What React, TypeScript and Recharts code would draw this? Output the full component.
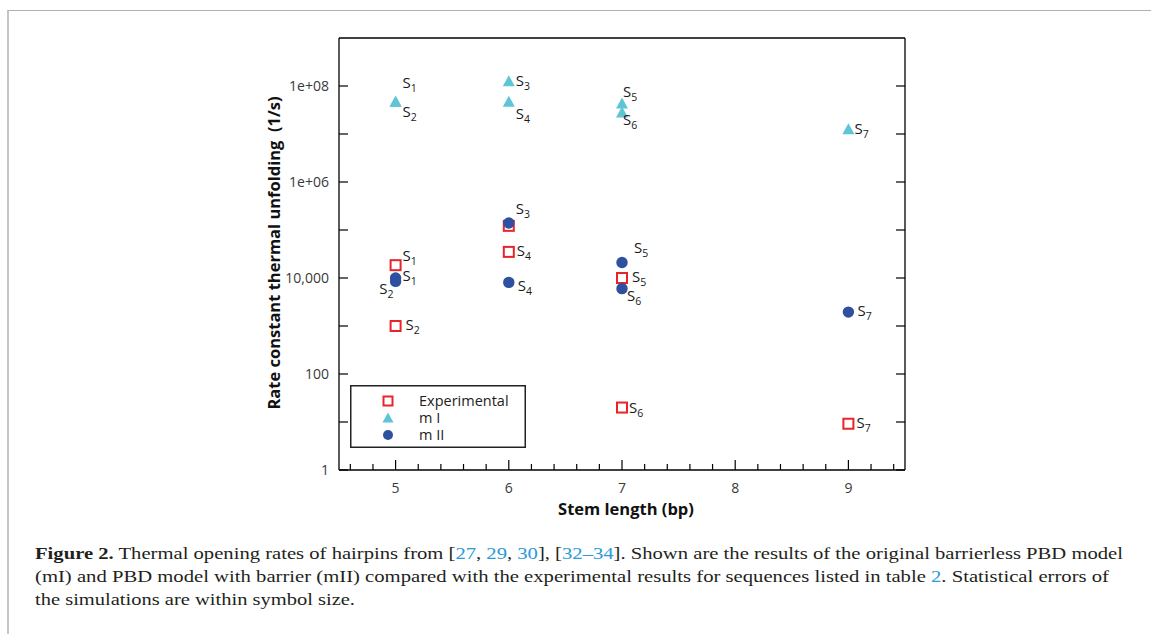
import { ScatterChart, Scatter, XAxis, YAxis, Legend } from 'recharts';

// stem lengths and names of the seven hairpin sequences
const stemLength = [5, 5, 6, 6, 7, 7, 9];
const sequenceNames = ['S1', 'S2', 'S3', 'S4', 'S5', 'S6', 'S7'];

// rate constants (1/s)
const experimentalRates = [18500, 1000, 122000, 35000, 10000, 20, 9.2];
const mIRates = [4.7e7, 4.7e7, 1.25e8, 4.7e7, 4.3e7, 2.8e7, 1.25e7];
const mIIRates = [10000, 8500, 140000, 8100, 21000, 6000, 1950];

const xTicks = [4.6, 4.8, 5, 5.2, 5.4, 5.6, 5.8, 6, 6.2, 6.4, 6.6, 6.8, 7, 7.2, 7.4, 7.6, 7.8, 8, 8.2, 8.4, 8.6, 8.8, 9, 9.2, 9.4];
const xTickLabels = [5, 6, 7, 8, 9];
const yTicks = [1, 10, 100, 1000, 10000, 1e5, 1e6, 1e7, 1e8];
const yTickLabels: Record<number, string> = { 1: '1', 100: '100', 10000: '10,000', 1000000: '1e+06', 100000000: '1e+08' };

const RED = '#e8242a';
const CYAN = '#5ec5d6';
const NAVY = '#2f4f9f';
const TICK_FONT = '"Open Sans", sans-serif';

// where each S-label sits next to its marker: [dx, dy, anchor]
const labelPlacement: Record<string, Record<string, [number, number, string?]>> = {
  exp: { S1: [7, -4], S2: [10, 4], S4: [8, 4], S5: [10, 4], S6: [7, 5], S7: [8, 4] },
  mI: { S1: [7, -14], S2: [7, 15], S3: [7, 5], S4: [7, 17], S5: [1, -7], S6: [1, 12], S7: [6, 5] },
  mII: { S1: [7, 3], S2: [-2, 13, 'end'], S3: [7, -9], S4: [9, 9], S5: [12, -10], S6: [5, 12], S7: [9, 4] },
};

const toPoints = (rates: number[]) =>
  rates.map((r, i) => ({ stem: stemLength[i], rate: r, name: sequenceNames[i] }));

const expData = toPoints(experimentalRates);
const mIData = toPoints(mIRates);
const mIIData = toPoints(mIIRates);

function SeqLabel({ cx, cy, name, series }: any) {
  const pl = labelPlacement[series][name];
  if (!pl) return null;
  return (
    <text x={cx + pl[0]} y={cy + pl[1]} textAnchor={pl[2] || 'start'} fontFamily={TICK_FONT} fontSize={15} fill="#1a1a1a">
      {name[0]}
      <tspan fontSize={10.5} dy={4}>{name.slice(1)}</tspan>
    </text>
  );
}

const squareShape = (p: any) => (
  <g>
    <rect x={p.cx - 5} y={p.cy - 5} width={10} height={10} fill="#fff" stroke={RED} strokeWidth={2} />
    <SeqLabel cx={p.cx} cy={p.cy} name={p.payload.name} series="exp" />
  </g>
);

const triangleShape = (p: any) => (
  <g>
    <polygon points={`${p.cx},${p.cy - 6} ${p.cx + 6},${p.cy + 5} ${p.cx - 6},${p.cy + 5}`} fill={CYAN} />
    <SeqLabel cx={p.cx} cy={p.cy} name={p.payload.name} series="mI" />
  </g>
);

const circleShape = (p: any) => (
  <g>
    <circle cx={p.cx} cy={p.cy} r={5.7} fill={NAVY} />
    <SeqLabel cx={p.cx} cy={p.cy} name={p.payload.name} series="mII" />
  </g>
);

const LeftTick = (p: any) => {
  const lbl = yTickLabels[p.payload.value];
  return (
    <g>
      <line x1={p.x} y1={p.y} x2={p.x + 9} y2={p.y} stroke="#000" strokeWidth={1.2} />
      {lbl && (
        <text x={p.x - 10} y={p.y + 5} textAnchor="end" fontFamily={TICK_FONT} fontSize={14} fill="#3a3a3a">{lbl}</text>
      )}
    </g>
  );
};

const RightTick = (p: any) => (
  <line x1={p.x} y1={p.y} x2={p.x - 9} y2={p.y} stroke="#000" strokeWidth={1.2} />
);

const BottomTick = (p: any) => {
  const v = p.payload.value;
  const major = xTickLabels.includes(v);
  return (
    <g>
      <line x1={p.x} y1={p.y} x2={p.x} y2={p.y - (major ? 10 : 6)} stroke="#000" strokeWidth={1.2} />
      {major && (
        <text x={p.x} y={p.y + 23} textAnchor="middle" fontFamily={TICK_FONT} fontSize={14} fill="#3a3a3a">{v}</text>
      )}
    </g>
  );
};

const TopTick = (p: any) => {
  const major = xTickLabels.includes(p.payload.value);
  return <line x1={p.x} y1={p.y} x2={p.x} y2={p.y + (major ? 10 : 6)} stroke="#000" strokeWidth={1.2} />;
};

const legendIcon = (name: string) => {
  if (name === 'Experimental') return <rect x={-4.5} y={-4.5} width={9} height={9} fill="#fff" stroke={RED} strokeWidth={2} />;
  if (name === 'm I') return <polygon points="0,-5.5 5.5,4.5 -5.5,4.5" fill={CYAN} />;
  return <circle r={5} fill={NAVY} />;
};

const renderLegend = (props: any) => (
  <svg width={176} height={63}>
    <rect x={0.75} y={0.75} width={174.5} height={61.5} fill="#fff" stroke="#222" strokeWidth={1.5} />
    {(props.payload || []).map((e: any, i: number) => (
      <g key={e.value} transform={`translate(0, ${16 + i * 17})`}>
        <g transform="translate(38, 0)">{legendIcon(e.value)}</g>
        <text x={69} y={5} fontFamily={TICK_FONT} fontSize={14.5} fill="#222">{e.value}</text>
      </g>
    ))}
  </svg>
);

const axisLine = { stroke: '#000', strokeWidth: 1.3 };
const blue = '#2a9ad8';

export default function App() {
  return (
    <div style={{ position: 'absolute', left: 0, top: 0, width: 1151, height: 634, background: '#fff', overflow: 'hidden' }}>
      <div style={{ position: 'absolute', left: 7, top: 10, width: 1144, height: 624, borderTop: '1px solid #b0b0b0', borderLeft: '2px solid #c4c4c4' }} />
      <ScatterChart width={1151} height={634} margin={{ top: 37, right: 245, bottom: 0, left: 0 }}>
        <XAxis xAxisId="bottom" dataKey="stem" type="number" domain={[4.5, 9.5]} ticks={xTicks} interval={0}
          allowDataOverflow height={164} tickLine={false} tickSize={0} tickMargin={0} tick={BottomTick} axisLine={axisLine} />
        <XAxis xAxisId="top" orientation="top" type="number" domain={[4.5, 9.5]} ticks={xTicks} interval={0}
          allowDataOverflow height={1} tickLine={false} tickSize={0} tickMargin={0} tick={TopTick} axisLine={axisLine} />
        <YAxis yAxisId="left" dataKey="rate" type="number" scale="log" domain={[1, 1e9]} ticks={yTicks} interval={0}
          allowDataOverflow width={339} tickLine={false} tickSize={0} tickMargin={0} tick={LeftTick} axisLine={axisLine} />
        <YAxis yAxisId="right" orientation="right" type="number" scale="log" domain={[1, 1e9]} ticks={yTicks} interval={0}
          allowDataOverflow width={1} tickLine={false} tickSize={0} tickMargin={0} tick={RightTick} axisLine={axisLine} />
        <Legend layout="horizontal" verticalAlign="middle" align="center" content={renderLegend}
          wrapperStyle={{ left: 350, top: 385, width: 176, height: 63 }} />
        <Scatter name="Experimental" data={expData} xAxisId="bottom" yAxisId="left" fill={RED} shape={squareShape} isAnimationActive={false} />
        <Scatter name="m I" data={mIData} xAxisId="bottom" yAxisId="left" fill={CYAN} shape={triangleShape} isAnimationActive={false} />
        <Scatter name="m II" data={mIIData} xAxisId="bottom" yAxisId="left" fill={NAVY} shape={circleShape} isAnimationActive={false} />
      </ScatterChart>
      <div style={{ position: 'absolute', left: 273, top: 253, transform: 'translate(-50%, -50%) rotate(-90deg)', whiteSpace: 'pre',
        fontFamily: TICK_FONT, fontWeight: 700, fontSize: 16.5, color: '#111' }}>
        Rate constant thermal unfolding  (1/s)
      </div>
      <div style={{ position: 'absolute', left: 626, top: 508, transform: 'translate(-50%, -50%)', whiteSpace: 'pre',
        fontFamily: TICK_FONT, fontWeight: 700, fontSize: 16.5, color: '#111' }}>
        Stem length (bp)
      </div>
      <svg style={{ position: 'absolute', left: 0, top: 530 }} width={1151} height={104}>
        <g style={{ whiteSpace: 'pre', fontFamily: "'Liberation Serif', 'Times New Roman', serif", fontSize: 16.5 }} fill="#231f20">
          <text x={35} y={29} textLength={1088} lengthAdjust="spacingAndGlyphs">
            <tspan fontWeight={700}>Figure 2.</tspan>{'  Thermal opening rates of hairpins from ['}
            <tspan fill={blue}>27</tspan>{', '}<tspan fill={blue}>29</tspan>{', '}<tspan fill={blue}>30</tspan>{'], ['}
            <tspan fill={blue}>32–34</tspan>{']. Shown are the results of the original barrierless PBD model'}
          </text>
          <text x={35} y={52} textLength={1074} lengthAdjust="spacingAndGlyphs">
            {'(mI) and PBD model with barrier (mII) compared with the experimental results for sequences listed in table '}
            <tspan fill={blue}>2</tspan>{'. Statistical errors of'}
          </text>
          <text x={35} y={75} textLength={320} lengthAdjust="spacingAndGlyphs">
            the simulations are within symbol size.
          </text>
        </g>
      </svg>
    </div>
  );
}
